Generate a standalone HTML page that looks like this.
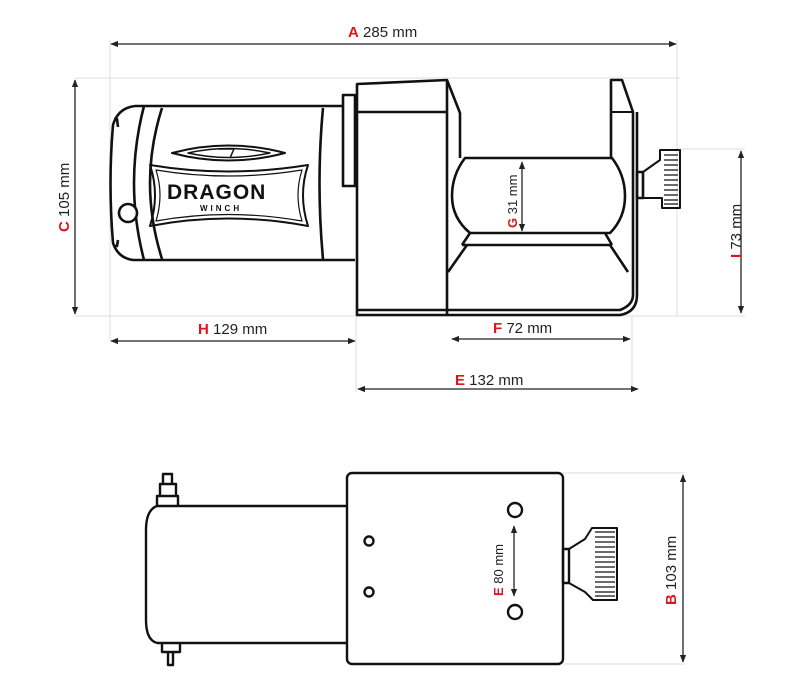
<!DOCTYPE html>
<html><head><meta charset="utf-8"><style>
html,body{margin:0;padding:0;background:#fff;}
svg{display:block;}
text{font-family:"Liberation Sans",sans-serif;font-size:15px;fill:#222;}
.r{fill:#e0141b;font-weight:bold;}
</style></head><body>
<svg width="800" height="687" viewBox="0 0 800 687" xmlns="http://www.w3.org/2000/svg">
<defs>
<marker id="ar" viewBox="0 0 10 10" refX="9" refY="5" markerWidth="6" markerHeight="6" orient="auto-start-reverse"><path d="M0,1 L10,5 L0,9 z" fill="#222"/></marker>
</defs>
<!-- extension lines -->
<g stroke="#ddd" stroke-width="1" fill="none">
<line x1="110" y1="40" x2="110" y2="342"/>
<line x1="677" y1="40" x2="677" y2="315"/>
<line x1="75" y1="78" x2="680" y2="78"/>
<line x1="75" y1="316" x2="745" y2="316"/>
<line x1="356" y1="316" x2="356" y2="392"/>
<line x1="632" y1="316" x2="632" y2="392"/>
<line x1="680" y1="149" x2="745" y2="149"/>
<line x1="563" y1="473" x2="685" y2="473"/>
<line x1="563" y1="664" x2="685" y2="664"/>
</g>
<!-- dimension lines -->
<g stroke="#222" stroke-width="1.3" marker-start="url(#ar)" marker-end="url(#ar)">
<line x1="111" y1="44" x2="676" y2="44"/>
<line x1="75" y1="80" x2="75" y2="314"/>
<line x1="111" y1="341" x2="355" y2="341"/>
<line x1="452" y1="339" x2="630" y2="339"/>
<line x1="358" y1="389" x2="638" y2="389"/>
<line x1="741" y1="151" x2="741" y2="313"/>
<line x1="522" y1="162" x2="522" y2="231"/>
<line x1="514" y1="526" x2="514" y2="596"/>
<line x1="683" y1="475" x2="683" y2="662"/>
</g>
<!-- labels -->
<text x="348" y="37"><tspan class="r">A</tspan>  285 mm</text>
<text x="198" y="334"><tspan class="r">H</tspan>  129 mm</text>
<text x="493" y="333"><tspan class="r">F</tspan>  72 mm</text>
<text x="455" y="385"><tspan class="r">E</tspan>  132 mm</text>
<text transform="translate(69,232) rotate(-90)"><tspan class="r">C</tspan>  105 mm</text>
<text transform="translate(741,258) rotate(-90)"><tspan class="r">I</tspan>  73 mm</text>
<text transform="translate(517,228) rotate(-90)" style="font-size:13px"><tspan class="r">G</tspan> 31 mm</text>
<text transform="translate(503,596) rotate(-90)" style="font-size:13px"><tspan class="r">E</tspan>  80 mm</text>
<text transform="translate(676,605) rotate(-90)"><tspan class="r">B</tspan>  103 mm</text>

<!-- side view -->
<g stroke="#111" stroke-width="2.6" fill="none" stroke-linejoin="round">
<!-- motor -->
<path d="M135,106 L342,106 M133,260 L355,260"/>
<path d="M135,106 Q118,108 113,125 Q108,183 113,243 Q118,258 133,260"/>
<path d="M144,106 Q124,183 144,260"/>
<path d="M162,108 Q138,183 162,259"/>
<path d="M323,108 Q316,183 323,259"/>
<path d="M114,119 L117,119 L118,127 M114,246 L117,246 L118,240"/>
<circle cx="128" cy="213" r="9" fill="#fff"/>
<!-- logo -->
<path d="M172,153 Q228,138 285,153 Q228,168 172,153 Z" stroke-width="2"/>
<path d="M188,153 Q228,144 270,153 Q228,162 188,153 Z" stroke-width="1.5"/>
<path d="M218,149 L234,149 L230,158" stroke-width="1.5"/>
<path d="M150,165 Q228,178 308,165 Q298,195 308,226 Q228,211 150,226 Q160,195 150,165 Z" stroke-width="2"/>
<path d="M156,170 Q228,182 302,170 Q294,195 302,221 Q228,208 156,221 Q164,195 156,170 Z" stroke-width="1.2"/>
<!-- bracket -->
<rect x="343" y="95" width="12" height="91"/>
<!-- gearbox -->
<path d="M357,84 L447,80 L447,315 L357,315 Z"/>
<line x1="357" y1="112" x2="447" y2="112"/>
<line x1="357" y1="310" x2="447" y2="310"/>
<!-- spool -->
<path d="M447,80 L460,113 L460,158"/>
<path d="M465,158 L612,158 Q625,175 625,196 Q625,218 610,233 L470,233 Q452,218 452,196 Q452,175 465,158 Z"/>
<path d="M470,233 L462,245 M605,233 L612,245 M462,245 L612,245"/>
<path d="M467,245 L448,272 M610,245 L628,272"/>
<path d="M447,310 L620,310 Q633,305 633,295 L633,112 L622,80 L611,80 L611,158"/>
<path d="M611,80 L611,112 L633,112" stroke-width="2"/>
<path d="M447,315 L620,315 Q637,312 637,295 L637,112"/>
<!-- knob -->
<rect x="637" y="172" width="6" height="26"/>
<path d="M643,172 L660,160 L660,150 L680,150 L680,208 L662,208 L662,198 L643,198" stroke-width="2"/>
<g stroke-width="1.2"><path d="M664,155 L678,155 M664,160 L678,160 M664,165 L678,165 M664,170 L678,170 M664,175 L678,175 M664,180 L678,180 M664,185 L678,185 M664,190 L678,190 M664,195 L678,195 M664,200 L678,200 M664,204 L678,204"/></g>
</g>

<!-- bottom view -->
<g stroke="#111" stroke-width="2.4" fill="none" stroke-linejoin="round">
<rect x="347" y="473" width="216" height="191" rx="5"/>
<path d="M157,506 L347,506 M157,643 L347,643"/>
<path d="M157,506 Q146,510 146,530 L146,620 Q146,640 157,643"/>
<path d="M157,506 L157,496 L178,496 L178,506 M160,496 L160,484 L176,484 L176,496 M163,484 L163,474 L172,474 L172,484"/>
<path d="M162,643 L162,652 L180,652 L180,643 M168,652 L168,665 L173,665 L173,652"/>
<circle cx="369" cy="541" r="4.5"/>
<circle cx="369" cy="592" r="4.5"/>
<circle cx="515" cy="510" r="7"/>
<circle cx="515" cy="612" r="7"/>
<rect x="563" y="549" width="6" height="34"/>
<path d="M569,549 L585,539 L592,528 L617,528 L617,600 L593,600 L585,592 L569,583" stroke-width="2"/>
<g stroke-width="1.2"><path d="M595,532 L615,532 M595,537 L615,537 M595,542 L615,542 M595,547 L615,547 M595,552 L615,552 M595,557 L615,557 M595,562 L615,562 M595,567 L615,567 M595,572 L615,572 M595,577 L615,577 M595,582 L615,582 M595,587 L615,587 M595,592 L615,592 M595,596 L615,596"/></g>
</g>
<text x="167" y="199" style="font-size:21px;font-weight:bold;fill:#111;letter-spacing:1px">DRAGON</text>
<text x="200" y="211" style="font-size:8px;font-weight:bold;fill:#111;letter-spacing:3px">WINCH</text>
</svg>
</body></html>
